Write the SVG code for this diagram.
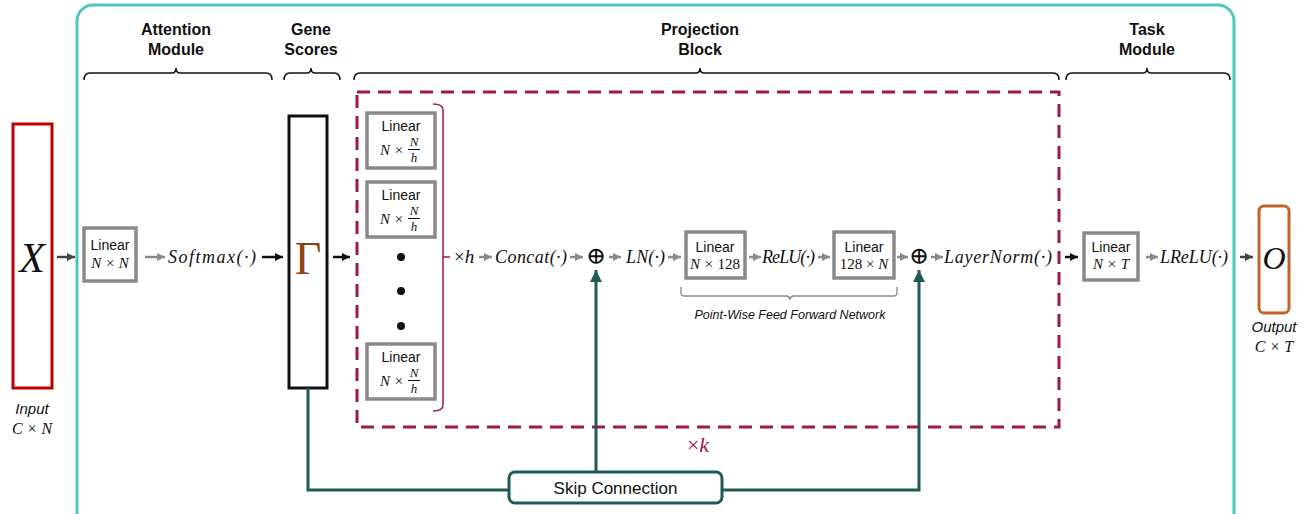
<svg xmlns="http://www.w3.org/2000/svg" width="1309" height="514" viewBox="0 0 1309 514">
<defs>
<marker id="ag" markerUnits="userSpaceOnUse" markerWidth="10" markerHeight="10" refX="8" refY="5" orient="auto"><path d="M0,1 L8,5 L0,9 Z" fill="#8a8a8a"/></marker>
<marker id="ab" markerUnits="userSpaceOnUse" markerWidth="10" markerHeight="10" refX="8" refY="5" orient="auto"><path d="M0,1 L8,5 L0,9 Z" fill="#111"/></marker>
<marker id="ad" markerUnits="userSpaceOnUse" markerWidth="10" markerHeight="10" refX="8" refY="5" orient="auto"><path d="M0,1 L8,5 L0,9 Z" fill="#444"/></marker>
<marker id="at" markerUnits="userSpaceOnUse" markerWidth="14" markerHeight="14" refX="12" refY="7" orient="auto"><path d="M0,1 L12,7 L0,13 Z" fill="#1f5a55"/></marker>
</defs>
<style>
.hdr{font-family:"Liberation Sans",Arial,sans-serif;font-weight:bold;font-size:16px;fill:#111;text-anchor:middle}
.brace{fill:none;stroke:#111;stroke-width:1.5}
.lin{fill:#fff;stroke:#8a8a8a;stroke-width:3.5}
.lt{font-family:"Liberation Sans",Arial,sans-serif;font-size:14px;fill:#111;text-anchor:middle}
.m{font-family:"Liberation Serif","DejaVu Serif",serif;font-style:italic;fill:#111}
.mi{font-family:"Liberation Serif","DejaVu Serif",serif;fill:#111}
.ga{stroke:#8a8a8a;stroke-width:2.5;marker-end:url(#ag)}
.ba{stroke:#111;stroke-width:2.5;marker-end:url(#ab)}
.da{stroke:#444;stroke-width:2.5;marker-end:url(#ad)}
.sk{fill:none;stroke:#1f5a55;stroke-width:3}
.cap{font-family:"Liberation Sans",Arial,sans-serif;font-style:italic;fill:#111;text-anchor:middle}
</style>

<rect x="77" y="5" width="1157" height="530" rx="16" fill="none" stroke="#4ec5c5" stroke-width="3"/>

<g id="headers">
<text class="hdr" x="176" y="35">Attention</text><text class="hdr" x="176" y="55">Module</text>
<text class="hdr" x="311" y="35">Gene</text><text class="hdr" x="311" y="55">Scores</text>
<text class="hdr" x="700" y="35">Projection</text><text class="hdr" x="700" y="55">Block</text>
<text class="hdr" x="1147" y="35">Task</text><text class="hdr" x="1147" y="55">Module</text>
<path class="brace" d="M84,80 Q84,73 90,73 L172,73 Q176,73 176,68 Q176,73 180,73 L266,73 Q272,73 272,80"/>
<path class="brace" d="M284,80 Q284,73 290,73 L307,73 Q311,73 311,68 Q311,73 315,73 L334,73 Q340,73 340,80"/>
<path class="brace" d="M354,80 Q354,73 360,73 L696,73 Q700,73 700,68 Q700,73 704,73 L1053,73 Q1059,73 1059,80"/>
<path class="brace" d="M1066,80 Q1066,73 1072,73 L1143,73 Q1147,73 1147,68 Q1147,73 1151,73 L1224,73 Q1230,73 1230,80"/>
</g>

<g id="input">
<rect x="13" y="124" width="39" height="264" fill="#fff" stroke="#c00000" stroke-width="3"/>
<text class="m" x="32" y="272" font-size="42" text-anchor="middle">X</text>
<text class="cap" x="32" y="414" font-size="15">Input</text>
<text class="m" x="32" y="434" font-size="16" text-anchor="middle">C × N</text>
</g>

<g id="linear1">
<rect class="lin" x="84" y="228" width="52" height="53"/>
<text class="lt" x="110" y="250">Linear</text>
<text class="m" x="110" y="268" font-size="15" text-anchor="middle">N × N</text>
</g>
<text class="m" id="softmax" x="168" y="263" font-size="18" textLength="88" lengthAdjust="spacing">Softmax(·)</text>

<g id="gamma">
<rect x="289" y="116" width="38" height="272" fill="#fff" stroke="#111" stroke-width="3"/>
<text class="mi" x="308" y="274" font-size="46" style="fill:#8b4513" text-anchor="middle">Γ</text>
</g>

<g id="projection">
<rect x="357" y="92" width="702" height="335" fill="none" stroke="#a0174e" stroke-width="3" stroke-dasharray="13,8"/>
<g id="head1">
<rect class="lin" x="367" y="113" width="68" height="55"/>
<text class="lt" x="401" y="131">Linear</text>
<text class="m" x="392" y="155" font-size="15" text-anchor="middle">N ×</text>
<text class="m" x="414" y="146" font-size="13" text-anchor="middle">N</text>
<line x1="408" y1="149.5" x2="420" y2="149.5" stroke="#111" stroke-width="1"/>
<text class="m" x="414" y="162" font-size="13" text-anchor="middle">h</text>
</g>
<g id="head2">
<rect class="lin" x="367" y="182" width="68" height="55"/>
<text class="lt" x="401" y="200">Linear</text>
<text class="m" x="392" y="224" font-size="15" text-anchor="middle">N ×</text>
<text class="m" x="414" y="215" font-size="13" text-anchor="middle">N</text>
<line x1="408" y1="218.5" x2="420" y2="218.5" stroke="#111" stroke-width="1"/>
<text class="m" x="414" y="231" font-size="13" text-anchor="middle">h</text>
</g>
<circle cx="401" cy="257" r="4" fill="#111"/>
<circle cx="401" cy="291" r="4" fill="#111"/>
<circle cx="401" cy="326" r="4" fill="#111"/>
<g id="headh">
<rect class="lin" x="367" y="344" width="68" height="55"/>
<text class="lt" x="401" y="362">Linear</text>
<text class="m" x="392" y="386" font-size="15" text-anchor="middle">N ×</text>
<text class="m" x="414" y="377" font-size="13" text-anchor="middle">N</text>
<line x1="408" y1="380.5" x2="420" y2="380.5" stroke="#111" stroke-width="1"/>
<text class="m" x="414" y="393" font-size="13" text-anchor="middle">h</text>
</g>
<path d="M433,104 Q443,104 443,110 L443,405 Q443,411 433,411 M443,257 L450,257" fill="none" stroke="#a0174e" stroke-width="1.5"/>
<text class="m" x="454" y="263" font-size="19"><tspan font-style="normal">×</tspan>h</text>
<text class="m" x="495" y="263" font-size="18" textLength="72" lengthAdjust="spacing">Concat(·)</text>
<text class="mi" x="596" y="264" font-size="24" text-anchor="middle">⊕</text>
<text class="m" x="626" y="263" font-size="18" textLength="39" lengthAdjust="spacing">LN(·)</text>
<g id="ffn1">
<rect class="lin" x="686" y="232" width="59" height="46"/>
<text class="lt" x="715" y="252">Linear</text>
<text class="m" x="715" y="269" font-size="15" text-anchor="middle">N × <tspan font-style="normal">128</tspan></text>
</g>
<text class="m" x="762" y="263" font-size="18" textLength="53" lengthAdjust="spacing">ReLU(·)</text>
<g id="ffn2">
<rect class="lin" x="834" y="232" width="60" height="46"/>
<text class="lt" x="864" y="252">Linear</text>
<text class="m" x="864" y="269" font-size="15" text-anchor="middle"><tspan font-style="normal">128 ×</tspan> N</text>
</g>
<text class="mi" x="919" y="264" font-size="24" text-anchor="middle">⊕</text>
<text class="m" x="944" y="263" font-size="18" textLength="108" lengthAdjust="spacing">LayerNorm(·)</text>
<path d="M681,287 L681,293 Q681,296 685,296 L786,296 Q790,296 790,300 Q790,296 794,296 L893,296 Q897,296 897,293 L897,287" fill="none" stroke="#8a8a8a" stroke-width="1.3"/>
<text class="cap" x="790" y="319" font-size="12.5">Point-Wise Feed Forward Network</text>
<text class="m" x="698" y="452" font-size="22" text-anchor="middle" style="fill:#a0174e"><tspan font-style="normal">×</tspan>k</text>
</g>

<g id="task">
<rect class="lin" x="1084" y="233" width="54" height="47"/>
<text class="lt" x="1111" y="252">Linear</text>
<text class="m" x="1111" y="269" font-size="15" text-anchor="middle">N × T</text>
<text class="m" x="1160" y="263" font-size="18" textLength="68" lengthAdjust="spacing">LReLU(·)</text>
</g>

<g id="output">
<rect x="1259" y="206" width="30" height="107" rx="5" fill="#fff" stroke="#c0652a" stroke-width="3"/>
<text class="m" x="1274" y="269" font-size="32" text-anchor="middle">O</text>
<text class="cap" x="1274" y="332" font-size="15">Output</text>
<text class="m" x="1274" y="352" font-size="16" text-anchor="middle">C × T</text>
</g>

<g id="skip">
<rect x="509" y="472" width="213" height="31" rx="6" fill="#fff" stroke="#1f5a55" stroke-width="3"/>
<text x="615.5" y="494" font-family="'Liberation Sans',Arial,sans-serif" font-size="17" fill="#111" text-anchor="middle">Skip Connection</text>
</g>

<g id="connectors">
<line class="da" x1="57" y1="257" x2="75" y2="257"/>
<line class="ga" x1="145" y1="257" x2="165" y2="257"/>
<line class="ba" x1="262" y1="257" x2="283" y2="257"/>
<line class="ba" x1="333" y1="257" x2="350" y2="257"/>
<line class="ga" x1="479" y1="257" x2="492" y2="257"/>
<line class="ga" x1="570" y1="257" x2="583" y2="257"/>
<line class="ga" x1="609" y1="257" x2="621" y2="257"/>
<line class="ga" x1="668" y1="257" x2="681" y2="257"/>
<line class="ga" x1="749" y1="257" x2="761" y2="257"/>
<line class="ga" x1="818" y1="257" x2="830" y2="257"/>
<line class="ga" x1="897" y1="257" x2="908" y2="257"/>
<line class="ga" x1="931" y1="257" x2="943" y2="257"/>
<line class="ba" x1="1065" y1="257" x2="1078" y2="257"/>
<line class="ga" x1="1146" y1="257" x2="1158" y2="257"/>
<line class="da" x1="1240" y1="257" x2="1253" y2="257"/>
<path class="sk" d="M308,388 L308,490 L509,490"/>
<path class="sk" d="M722,490 L919,490 L919,270" marker-end="url(#at)"/>
<path class="sk" d="M596,472 L596,270" marker-end="url(#at)"/>
</g>
</svg>
